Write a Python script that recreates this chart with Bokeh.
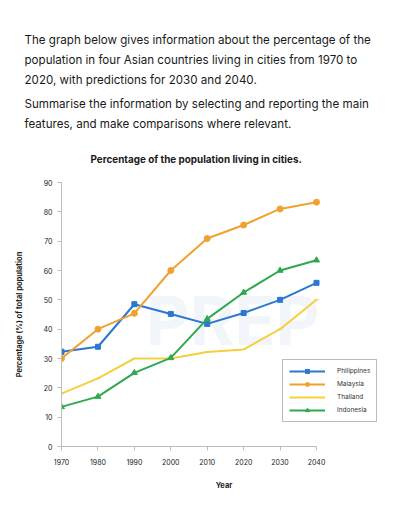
from bokeh.plotting import figure
from bokeh.models import Label, Legend, LegendItem, FixedTicker, ColumnDataSource, Title
from bokeh.embed import file_html
from bokeh.resources import INLINE

years = [1970, 1980, 1990, 2000, 2010, 2020, 2030, 2040]
philippines = [32.3, 34.0, 48.5, 45.2, 41.8, 45.5, 50.0, 55.8]
malaysia = [30.0, 40.0, 45.4, 60.0, 70.9, 75.5, 81.0, 83.3]
thailand = [18.0, 23.2, 30.0, 30.0, 32.2, 33.1, 40.0, 50.0]
indonesia = [13.5, 17.0, 25.1, 30.2, 43.5, 52.5, 60.0, 63.5]
y_ticks = [0, 10, 20, 30, 40, 50, 60, 70, 80, 90]
paragraph1 = [
    "The graph below gives information about the percentage of the",
    "population in four Asian countries living in cities from 1970 to",
    "2020, with predictions for 2030 and 2040.",
]
paragraph2 = [
    "Summarise the information by selecting and reporting the main",
    "features, and make comparisons where relevant.",
]
chart_title = "Percentage of the population living in cities."

W, H = 394, 512
FL, FB, FT, FR = 61, 66, 182, 8
x_end = 2040 + 70 * (386 - 316) / 255.0

p = figure(width=W, height=H, output_backend="svg", toolbar_location=None, title=None,
           x_range=(1970, x_end), y_range=(0, 90),
           min_border_left=FL, min_border_right=FR, min_border_top=FT, min_border_bottom=FB)
p.outline_line_color = None
p.grid.visible = False

for ax in (p.xaxis[0], p.yaxis[0]):
    ax.axis_line_color = "#bdbdbd"
    ax.major_tick_line_color = "#bdbdbd"
    ax.minor_tick_line_color = None
    ax.major_label_text_font = "Inter"
    ax.major_label_text_font_size = "7px"
    ax.major_label_text_color = "#222222"
    ax.axis_label_text_font = "Inter"
    ax.axis_label_text_font_size = "7.5px"
    ax.axis_label_text_font_style = "bold"
    ax.axis_label_text_color = "#222222"
    ax.major_tick_in = 0
    ax.major_tick_out = 4

p.xaxis.ticker = FixedTicker(ticks=years)
p.yaxis.ticker = FixedTicker(ticks=y_ticks)
p.xaxis.bounds = (1970, 2040)
p.yaxis.bounds = (0, 90)
p.xaxis.axis_label = "Year"
p.yaxis.axis_label = "Percentage (%) of total population"
p.xaxis.major_label_standoff = 8
p.xaxis.axis_label_standoff = 13
p.yaxis.axis_label_standoff = 17

# watermark
p.add_layout(Label(x=2017, y=43, text="PREP", text_font="Inter", text_font_style="bold",
                   text_font_size="68px", text_color="#f2f6fb", text_align="center",
                   text_baseline="middle", level="underlay"))

src = ColumnDataSource(dict(x=years, ph=philippines, ma=malaysia, th=thailand, ind=indonesia))

c_ph, c_ma, c_th, c_in = "#2a78d0", "#f0a22e", "#f4d03f", "#2fa84f"
lw = 2
l1 = p.line("x", "ph", source=src, color=c_ph, line_width=lw)
m1 = p.scatter("x", "ph", source=src, marker="square", size=5, color=c_ph)
l2 = p.line("x", "ma", source=src, color=c_ma, line_width=lw)
m2 = p.scatter("x", "ma", source=src, marker="circle", size=6, color=c_ma)
l3 = p.line("x", "th", source=src, color=c_th, line_width=lw)
m3 = p.scatter("x", "th", source=src, marker="dash", size=5, color=c_th)
l4 = p.line("x", "ind", source=src, color=c_in, line_width=lw)
m4 = p.scatter("x", "ind", source=src, marker="triangle", size=6, color=c_in)

legend = Legend(items=[
    LegendItem(label="Philippines", renderers=[l1, m1]),
    LegendItem(label="Malaysia", renderers=[l2, m2]),
    LegendItem(label="Thailand", renderers=[l3, m3]),
    LegendItem(label="Indonesia", renderers=[l4, m4]),
], location=(221, 24))
legend.label_text_font = "Inter"
legend.label_text_font_size = "6.5px"
legend.label_text_color = "#333333"
legend.border_line_color = "#777777"
legend.border_line_width = 1
legend.glyph_width = 36
legend.glyph_height = 10
legend.label_height = 10
legend.label_standoff = 12
legend.spacing = 3
legend.padding = 6
legend.margin = 0
p.add_layout(legend)

# titles in the above panel (first added is nearest the plot)
p.add_layout(Title(text=chart_title, align="left", offset=29, text_font="Inter",
                   text_font_size="9.9px", text_font_style="bold", text_color="#1a1a1a",
                   standoff=36), "above")

def header_line(t):
    return Title(text=t, align="left", offset=-37, text_font="Inter",
                 text_font_size="11.6px", text_font_style="normal",
                 text_color="#1a1a1a", standoff=4)

for t in reversed(paragraph2):
    p.add_layout(header_line(t), "above")
# paragraph spacer
p.add_layout(Title(text=" ", text_font_size="1px", standoff=1), "above")
for t in reversed(paragraph1):
    p.add_layout(header_line(t), "above")

open("out.html", "w").write(file_html(p, INLINE))
